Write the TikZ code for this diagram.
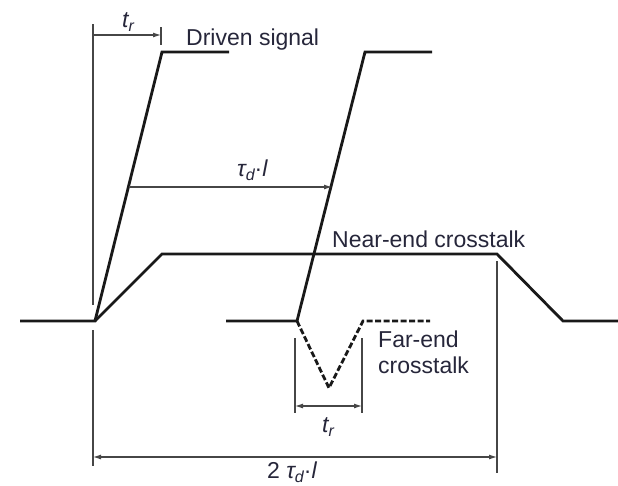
\documentclass[tikz,border=0pt]{standalone}
\usepackage{fontspec}
\setmainfont{Liberation Sans}
\usetikzlibrary{arrows.meta}
\definecolor{txt}{RGB}{38,38,58}
\definecolor{dimc}{RGB}{70,70,70}
\newcommand{\lowidx}[1]{\raisebox{-0.4ex}{\fontsize{16}{16}\selectfont\itshape #1}}
\tikzset{
  sig/.style={line width=2.8pt, black!90, line join=miter},
  farsig/.style={sig, dash pattern=on 6pt off 2.5pt},
  dimline/.style={line width=1.1pt, dimc},
  dimarrow/.style={dimline, {Latex[length=8pt,width=5pt]}-{Latex[length=8pt,width=5pt]}},
  dimarrowR/.style={dimline, -{Latex[length=8pt,width=5pt]}},
  lbl/.style={inner sep=0pt, text=txt, font=\fontsize{23}{26}\selectfont},
}
\begin{document}
\begin{tikzpicture}[x=1pt,y=-1pt]
\useasboundingbox (0,0) rectangle (618,485);
% driven signal 1
\coordinate (a0) at (20,321);
\coordinate (a1) at (95,321);
\coordinate (a2) at (162,52);
\coordinate (a3) at (229,52);
\draw[sig] (a0) -- (a1) -- (a2) -- (a3);
% driven signal 2
\coordinate (b0) at (226,321);
\coordinate (b1) at (297,321);
\coordinate (b2) at (365,52);
\coordinate (b3) at (432,52);
\draw[sig] (b0) -- (b1) -- (b2) -- (b3);
% near-end crosstalk
\coordinate (n1) at (162,254);
\coordinate (n2) at (497,254);
\coordinate (n3) at (563,321);
\coordinate (n4) at (618,321);
\draw[sig] (a1) -- (n1) -- (n2) -- (n3) -- (n4);
% far-end crosstalk
\coordinate (f1) at (329,388);
\coordinate (f2) at (363,321);
\coordinate (f3) at (430,321);
\draw[farsig] (b1) -- (f1) -- (f2) -- (f3);
% dimension verticals
\coordinate (v1t) at (93,24);
\coordinate (v1m) at (93,305);
\coordinate (v1b) at (93,330);
\coordinate (v1e) at (93,466);
\draw[dimline] (v1t) -- (v1m);
\draw[dimline] (v1b) -- (v1e);
\coordinate (tk1) at (161,27);
\coordinate (tk2) at (161,45);
\draw[dimline] (tk1) -- (tk2);
\coordinate (v2t) at (497,261);
\coordinate (v2b) at (497,473);
\draw[dimline] (v2t) -- (v2b);
\coordinate (v3t) at (295,338);
\coordinate (v3b) at (295,413);
\draw[dimline] (v3t) -- (v3b);
\coordinate (v4t) at (362,338);
\coordinate (v4b) at (362,413);
\draw[dimline] (v4t) -- (v4b);
% arrows
\coordinate (r1a) at (93,35);
\coordinate (r1b) at (161,35);
\draw[dimarrowR] (r1a) -- (r1b);
\coordinate (tda) at (129,187);
\coordinate (tdb) at (332,187);
\draw[dimarrowR] (tda) -- (tdb);
\coordinate (r2a) at (295,406);
\coordinate (r2b) at (362,406);
\draw[dimarrow] (r2a) -- (r2b);
\coordinate (ba) at (93,457);
\coordinate (bb) at (497,457);
\draw[dimarrow] (ba) -- (bb);
% labels
\node[lbl, anchor=base west] (ltr1) at (122,27) {\itshape t\lowidx{r}};
\node[lbl, anchor=base west] (ldrv) at (186,45) {Driven signal};
\node[lbl, anchor=base west] (ltd) at (237,176) {\itshape τ\lowidx{d}\upshape·\itshape l};
\node[lbl, anchor=base west] (lnear) at (332,247) {Near-end crosstalk};
\node[lbl, anchor=base west] (lfar1) at (378,347) {Far-end};
\node[lbl, anchor=base west] (lfar2) at (378,373) {crosstalk};
\node[lbl, anchor=base west] (ltr2) at (322,432) {\itshape t\lowidx{r}};
\node[lbl, anchor=base west] (l2td) at (267,478) {2 \itshape τ\lowidx{d}\upshape·\itshape l};
\end{tikzpicture}
\end{document}
